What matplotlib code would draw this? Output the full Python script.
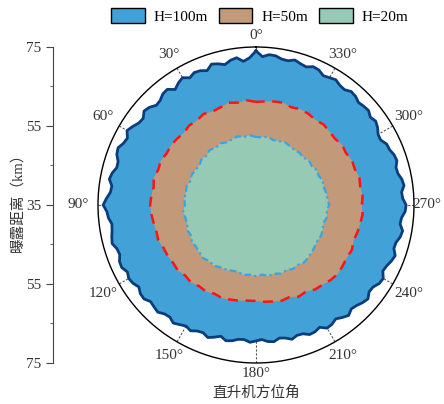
import numpy as np
import matplotlib
matplotlib.use("Agg")
import matplotlib.pyplot as plt
from matplotlib.patches import Patch

plt.rcParams["font.family"] = ["Liberation Serif", "Noto Sans CJK SC"]
plt.rcParams["axes.unicode_minus"] = False

# azimuth in degrees (0 at top, counter-clockwise)
angle_fine = np.arange(0, 360, 2.5)
angle_deg = np.arange(0, 360, 5)

# exposure distance boundary (km) for each flight height
r_h100 = [74.0, 72.3, 71.5, 72.6, 72.2, 71.4, 72.0, 72.4, 71.2, 71.8, 72.0, 71.3,
          72.2, 71.6, 70.7, 71.9, 71.7, 70.9, 70.7, 71.6, 72.0, 71.0, 71.2, 72.0,
          72.7, 71.7, 72.0, 72.8, 72.5, 71.6, 71.5, 72.3, 72.7, 71.8, 72.0, 72.9,
          73.7, 72.8, 72.5, 71.8, 72.0, 72.4, 72.7, 71.9, 71.7, 72.4, 72.5, 71.7,
          72.2, 71.9, 71.2, 71.9, 72.0, 71.2, 71.5, 71.8, 71.0, 70.8, 71.5, 70.9,
          70.4, 70.9, 70.2, 70.0, 70.7, 70.1, 69.4, 70.2, 69.9, 69.3, 69.2, 69.8,
          69.4, 69.1, 69.7, 69.9, 69.2, 69.5, 70.2, 69.6, 69.7, 70.5, 70.4, 69.9,
          71.0, 70.8, 70.2, 70.9, 71.5, 70.7, 71.0, 71.6, 72.0, 71.1, 71.2, 72.0,
          72.2, 71.2, 71.5, 72.1, 72.5, 71.6, 71.7, 72.4, 72.7, 71.8, 72.0, 72.8,
          73.0, 72.2, 72.0, 72.8, 72.5, 71.8, 71.7, 72.4, 72.2, 71.6, 71.5, 70.6,
          70.7, 71.5, 72.0, 71.5, 72.2, 72.0, 71.7, 72.3, 72.5, 71.8, 72.0, 72.6,
          72.2, 71.9, 72.7, 72.9, 72.2, 72.5, 73.0, 72.4, 72.5, 73.1, 73.2, 72.6]
r_h50 = [61.1, 61.6, 61.3, 61.8, 61.3, 61.1, 61.6, 61.1, 61.3, 60.8, 61.1, 61.3,
         61.1, 61.6, 61.3, 61.8, 61.3, 61.6, 61.8, 61.6, 61.3, 61.1, 61.3, 60.8,
         60.8, 60.6, 60.8, 60.3, 60.6, 60.1, 60.3, 59.8, 60.1, 59.8, 59.6, 59.3,
         59.3, 59.6, 59.8, 60.1, 59.8, 60.6, 60.3, 61.1, 61.3, 61.8, 62.1, 61.8,
         61.6, 61.8, 61.3, 61.6, 61.8, 62.1, 61.8, 62.1, 61.8, 62.1, 61.6, 61.8,
         61.3, 61.6, 61.1, 61.3, 61.6, 61.3, 61.6, 61.8, 61.3, 61.8, 61.6, 61.3]
r_h20 = [52.2, 52.7, 52.5, 53.0, 52.7, 52.5, 53.0, 52.7, 53.2, 52.7, 53.0, 52.5,
         52.7, 53.0, 52.7, 53.2, 53.0, 53.2, 53.0, 53.5, 53.2, 53.0, 53.5, 53.2,
         53.7, 53.5, 53.7, 54.0, 53.5, 53.7, 53.2, 53.0, 52.7, 52.5, 53.0, 52.7,
         53.0, 52.7, 53.2, 53.0, 53.5, 53.2, 53.7, 53.5, 54.0, 53.7, 53.5, 53.2,
         53.0, 53.2, 53.0, 52.7, 53.2, 53.0, 53.5, 53.2, 53.0, 52.7, 53.0, 52.5,
         52.7, 52.2, 52.5, 52.0, 52.2, 52.0, 52.2, 52.5, 52.2, 52.0, 52.5, 52.2]

labels = ["H=100m", "H=50m", "H=20m"]
fill_colors = ["#42a1d6", "#c29a7a", "#97cab5"]
edge_colors = ["#0b3d7c", "#ff1414", "#38a4e2"]
edge_styles = ["-", (0, (4, 3)), (0, (3, 1.5, 1, 1.5))]
edge_widths = [2.0, 1.8, 1.6]

r_ticks = [-40, -20, 0, 20, 40]
r_ticklabels = ["75", "55", "35", "55", "75"]
theta_ticks = np.arange(0, 360, 30)

fig = plt.figure(figsize=(4.44, 4.04), dpi=100)

ax = fig.add_axes([0.2207, 0.1015, 0.7117, 0.7822], projection="polar")
ax.set_theta_zero_location("N")
ax.set_theta_direction(1)
ax.set_rlim(35, 75)
ax.set_yticklabels([])
ax.yaxis.grid(False)
ax.set_axisbelow(True)

series = [(angle_fine, r_h100), (angle_deg, r_h50), (angle_deg, r_h20)]
for (a, r), fc in zip(series, fill_colors):
    th = np.deg2rad(np.append(a, 360))
    ax.fill(th, np.append(r, r[0]), color=fc, lw=0, zorder=1)
for (a, r), ec, ls, lw in zip(series, edge_colors, edge_styles, edge_widths):
    th = np.deg2rad(np.append(a, 360))
    ax.plot(th, np.append(r, r[0]), color=ec, linestyle=ls, lw=lw, zorder=2)

ax.set_xticks(np.deg2rad(theta_ticks))
ax.set_xticklabels([])
ax.set_xticks(np.deg2rad(np.arange(15, 360, 30)), minor=True)
ax.tick_params(axis="x", which="major", direction="in", length=5, width=0.8)
ax.tick_params(axis="x", which="minor", direction="in", length=3, width=0.8)
ax.xaxis.grid(True, linestyle=(0, (2, 1.5)), color="0.35", lw=0.8)
ax.spines["polar"].set_linewidth(1.0)

# angle labels placed a bit further out at the sides
for d in theta_ticks:
    t = np.deg2rad(d)
    px = 169 + 9 * abs(np.sin(t))
    if d == 270:
        px = 171
    ax.text(t, 35 + 40 * px / 158, f"{d}°", ha="center", va="center",
            fontsize=11, color="#333333", clip_on=False)

# left distance scale
axl = fig.add_axes([0.119, 0.1015, 0.001, 0.7822])
axl.set_ylim(-40, 40)
axl.set_xticks([])
for s in ["top", "right", "bottom"]:
    axl.spines[s].set_visible(False)
axl.spines["left"].set_color("#444444")
axl.set_yticks(r_ticks)
axl.set_yticklabels(r_ticklabels, fontsize=11, color="#333333")
axl.set_yticks([-30, -10, 10, 30], minor=True)
axl.tick_params(axis="y", which="major", length=5, color="#444444")
axl.tick_params(axis="y", which="minor", length=2.5, color="#444444")
axl.set_facecolor("none")

fig.text(0.04, 0.507, "曝露距离（km）", rotation=90, ha="center", va="center",
         fontsize=10.5, color="#333333")
fig.text(0.578, 0.027, "直升机方位角", ha="center", va="center",
         fontsize=10.5, color="#333333")

handles = [Patch(facecolor=fc, edgecolor="black", lw=1) for fc in fill_colors]
fig.legend(handles, labels, loc="center", bbox_to_anchor=(0.585, 0.96), ncol=3,
           frameon=False, fontsize=11, handlelength=2.2, handleheight=1.1,
           columnspacing=0.7, handletextpad=0.6)

fig.savefig("out.png", dpi=100)
